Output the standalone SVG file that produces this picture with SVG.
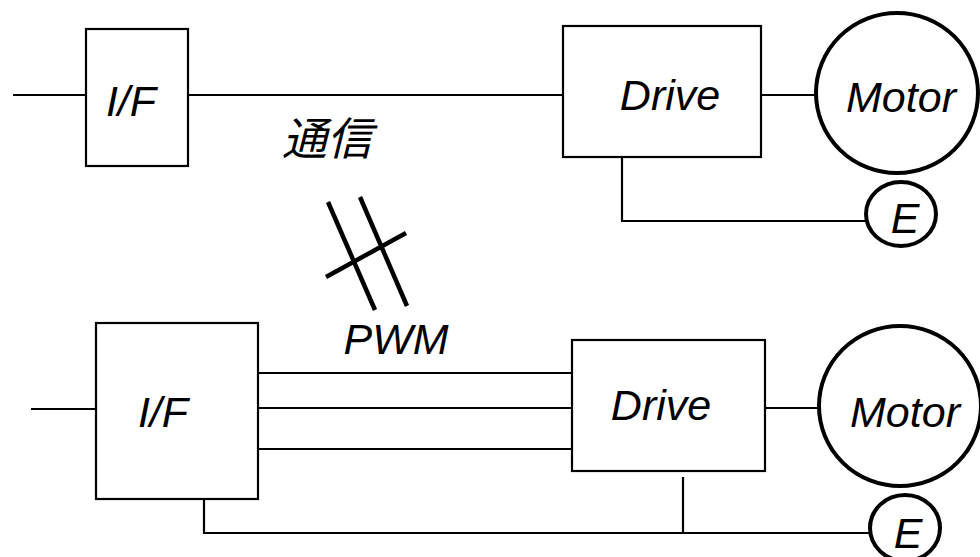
<svg xmlns="http://www.w3.org/2000/svg" width="980" height="557" viewBox="0 0 980 557">
<style>
.box{fill:#fff;stroke:#000;stroke-width:2.2}
.circ{fill:#fff;stroke:#000;stroke-width:4}
.ln{stroke:#000;stroke-width:2.2;fill:none}
.slash{stroke:#000;stroke-width:4.5;fill:none}
.t{font-family:"Liberation Sans",Arial,sans-serif;font-style:italic;font-size:43px;fill:#000;text-anchor:middle}
.cjk{font-family:"Liberation Sans","Noto Sans CJK JP",sans-serif;font-style:italic;font-size:45px;fill:#000;text-anchor:middle}
</style>
<rect width="980" height="557" fill="#fff"/>
<g id="connectors">
  <line class="ln" x1="13" y1="95" x2="86" y2="95"/>
  <line class="ln" x1="188" y1="95" x2="563" y2="95"/>
  <line class="ln" x1="761" y1="95" x2="815" y2="95"/>
  <polyline class="ln" points="622,157 622,221 865,221"/>
  <line class="ln" x1="31" y1="409" x2="96" y2="409"/>
  <line class="ln" x1="258" y1="373" x2="572" y2="373"/>
  <line class="ln" x1="258" y1="408" x2="572" y2="408"/>
  <line class="ln" x1="258" y1="449" x2="572" y2="449"/>
  <line class="ln" x1="765" y1="408" x2="819" y2="408"/>
  <polyline class="ln" points="204,499 204,533 869,533"/>
  <line class="ln" x1="683" y1="477" x2="683" y2="533"/>
</g>
<g id="comm-label">
  <text class="cjk" x="327" y="155">通信</text>
</g>
<g id="break-mark">
  <line class="slash" x1="328" y1="202" x2="375" y2="310"/>
  <line class="slash" x1="360" y1="197" x2="407" y2="306"/>
  <line class="slash" x1="326" y1="277" x2="406" y2="233"/>
</g>
<g id="pwm-label">
  <text class="t" x="396" y="354">PWM</text>
</g>
<g id="if-top">
  <rect class="box" x="86" y="29" width="102" height="137"/>
  <text class="t" x="131" y="116">I/F</text>
</g>
<g id="drive-top">
  <rect class="box" x="563" y="26" width="198" height="131"/>
  <text class="t" x="670" y="110">Drive</text>
</g>
<g id="motor-top">
  <ellipse class="circ" cx="897" cy="93" rx="81" ry="80"/>
  <text class="t" x="901" y="112">Motor</text>
</g>
<g id="e-top">
  <ellipse class="circ" cx="901" cy="214" rx="35" ry="32"/>
  <text class="t" x="905" y="233">E</text>
</g>
<g id="if-bottom">
  <rect class="box" x="96" y="323" width="162" height="176"/>
  <text class="t" x="163" y="427">I/F</text>
</g>
<g id="drive-bottom">
  <rect class="box" x="572" y="340" width="193" height="131"/>
  <text class="t" x="661" y="420">Drive</text>
</g>
<g id="motor-bottom">
  <ellipse class="circ" cx="900" cy="406" rx="81" ry="80"/>
  <text class="t" x="905" y="427">Motor</text>
</g>
<g id="e-bottom">
  <ellipse class="circ" cx="905" cy="528" rx="35" ry="33"/>
  <text class="t" x="908" y="548">E</text>
</g>
</svg>
